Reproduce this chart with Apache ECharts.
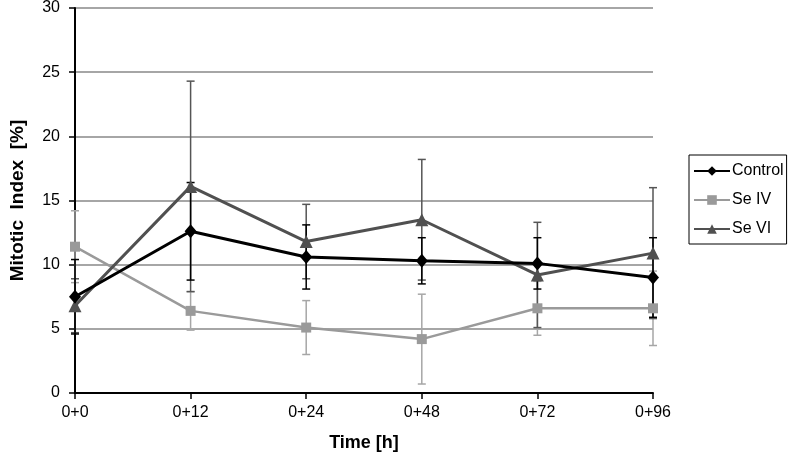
<!DOCTYPE html>
<html>
<head>
<meta charset="utf-8">
<script src="https://cdn.jsdelivr.net/npm/echarts@6/dist/echarts.min.js"></script>
<style>html,body{margin:0;padding:0;background:#fff}#c{width:792px;height:460px}</style>
</head>
<body>
<div id="c"></div>
<script>
var categories = ['0+0', '0+12', '0+24', '0+48', '0+72', '0+96'];
var controlVals = [7.5, 12.6, 10.6, 10.3, 10.1, 9.0];
var controlErr  = [2.9, 3.8, 2.5, 1.8, 2.0, 3.1];
var seIVVals = [11.4, 6.4, 5.1, 4.2, 6.6, 6.6];
var seIVErr  = [2.8, 1.5, 2.1, 3.5, 2.1, 2.9];
var seVIVals = [6.8, 16.1, 11.8, 13.5, 9.2, 10.9];
var seVIErr  = [2.1, 8.2, 2.9, 4.7, 4.1, 5.1];
var yTicks = [0, 5, 10, 15, 20, 25, 30];

var FONT = '"Liberation Sans", Arial, sans-serif';

function errData(vals, errs) {
  return vals.map(function (v, i) { return [i, v - errs[i], v + errs[i]]; });
}
function errSeries(name, vals, errs, color) {
  return {
    type: 'custom',
    name: name + ' err',
    z: 1,
    silent: true,
    data: errData(vals, errs),
    renderItem: function (params, api) {
      var x = api.value(0);
      var lo = api.coord([x, api.value(1)]);
      var hi = api.coord([x, api.value(2)]);
      var hw = 4;
      var st = { stroke: color, lineWidth: 1.5 };
      return {
        type: 'group',
        children: [
          { type: 'line', shape: { x1: hi[0], y1: hi[1], x2: lo[0], y2: lo[1] }, style: st },
          { type: 'line', shape: { x1: hi[0] - hw, y1: hi[1], x2: hi[0] + hw, y2: hi[1] }, style: st },
          { type: 'line', shape: { x1: lo[0] - hw, y1: lo[1], x2: lo[0] + hw, y2: lo[1] }, style: st }
        ]
      };
    }
  };
}

var chart = echarts.init(document.getElementById('c'), null, { renderer: 'canvas' });
chart.setOption({
  animation: false,
  backgroundColor: '#fff',
  textStyle: { fontFamily: FONT },
  grid: { left: 69, right: 139, top: 7.5, bottom: 67, containLabel: false },
  legend: {
    orient: 'vertical',
    left: 689, top: 155,
    padding: [8, 3, 7, 4],
    itemGap: 13,
    itemWidth: 36, itemHeight: 12,
    borderColor: '#000', borderWidth: 1,
    textStyle: { fontFamily: FONT, fontSize: 16, color: '#000', padding: [0, 0, 0, -3] },
    data: ['Control', 'Se IV', 'Se VI']
  },
  xAxis: {
    type: 'category',
    data: categories,
    boundaryGap: false,
    name: 'Time [h]',
    nameLocation: 'middle',
    nameGap: 41,
    nameTextStyle: { fontFamily: FONT, fontSize: 18, fontWeight: 'bold', color: '#000' },
    axisLine: { lineStyle: { color: '#000', width: 2 } },
    axisTick: { alignWithLabel: true, length: 6, lineStyle: { color: '#000', width: 1.5 } },
    axisLabel: { fontFamily: FONT, fontSize: 16, color: '#000', margin: 12 },
    splitLine: { show: false }
  },
  yAxis: {
    type: 'value',
    min: 0, max: 30, interval: 5,
    name: 'Mitotic  Index  [%]',
    nameLocation: 'middle',
    nameGap: 48,
    nameTextStyle: { fontFamily: FONT, fontSize: 19, fontWeight: 'bold', color: '#000' },
    axisLine: { show: true, lineStyle: { color: '#000', width: 2 } },
    axisTick: { show: true, inside: false, length: 6, lineStyle: { color: '#000', width: 1.5 } },
    axisLabel: {
      fontFamily: FONT, fontSize: 16, color: '#000', margin: 15,
      formatter: function (v) { return yTicks.indexOf(v) >= 0 ? String(v) : ''; }
    },
    splitLine: { show: true, lineStyle: { color: '#888', width: 1.5 } }
  },
  series: [
    errSeries('Se IV', seIVVals, seIVErr, '#a6a6a6'),
    errSeries('Se VI', seVIVals, seVIErr, '#555555'),
    errSeries('Control', controlVals, controlErr, '#000000'),
    {
      name: 'Se IV', type: 'line', data: seIVVals, z: 3,
      symbol: 'rect', symbolSize: 10,
      lineStyle: { color: '#9a9a9a', width: 2.5 },
      itemStyle: { color: '#9a9a9a' }
    },
    {
      name: 'Se VI', type: 'line', data: seVIVals, z: 4,
      symbol: 'triangle', symbolSize: 13,
      lineStyle: { color: '#505050', width: 3 },
      itemStyle: { color: '#505050' }
    },
    {
      name: 'Control', type: 'line', data: controlVals, z: 5,
      symbol: 'diamond', symbolSize: [12, 14],
      lineStyle: { color: '#000', width: 3 },
      itemStyle: { color: '#000' }
    }
  ]
});
</script>
</body>
</html>
